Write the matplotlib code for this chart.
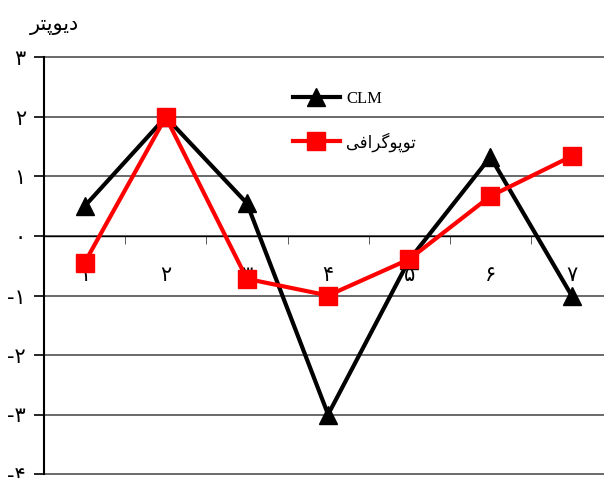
import matplotlib
matplotlib.use("Agg")
import matplotlib.pyplot as plt
from matplotlib.ticker import FixedLocator

plt.rcParams['font.family'] = ['DejaVu Sans']

# data
categories = ['۱', '۲', '۳', '۴', '۵', '۶', '۷']
clm = [0.5, 2.0, 0.55, -3.0, -0.4, 1.33, -1.0]
topo = [-0.45, 2.0, -0.72, -1.0, -0.39, 0.67, 1.34]
y_ticks = [3, 2, 1, 0, -1, -2, -3, -4]
y_labels = ['۳', '۲', '۱', '٠', '-۱', '-۲', '-۳', '-۴']
# Arabic-script labels in visual (presentation-form) order
ylabel_text = '\uFEAE\uFE98\uFB58\uFEEE\uFBFE\uFEA9'          # دیوپتر
topo_label = '\uFBFD\uFED3\uFE8D\uFEAE\uFB94\uFEEE\uFB58\uFEEE\uFE97'  # توپوگرافی
clm_label = 'CLM'

fig = plt.figure(figsize=(6.04, 4.78), dpi=100)
ax = fig.add_axes([44/604, 4/478, 568.2/604, 416.5/478])

x = list(range(1, len(categories) + 1))
ax.plot(x, clm, color='black', lw=3, marker='^', markersize=13, label=clm_label, zorder=3, clip_on=False)
ax.plot(x, topo, color='#ff0000', lw=3, marker='s', markersize=12.5, label=topo_label, zorder=4, clip_on=False)

ax.set_xlim(0.5, 7.5)
ax.set_ylim(-4, 3)
ax.set_yticks(y_ticks)
ax.set_yticklabels(y_labels, fontsize=15)
ax.yaxis.grid(True, color='#505050', lw=1.2)
for gl in ax.yaxis.get_gridlines():
    gl.set_clip_on(False)
ax.set_axisbelow(True)

ax.spines['top'].set_visible(False)
ax.spines['right'].set_visible(False)
ax.spines['left'].set_linewidth(1.5)
ax.spines['bottom'].set_position(('data', 0))
ax.spines['bottom'].set_linewidth(1.0)

ax.set_xticks(x)
ax.set_xticklabels(categories, fontsize=15)
ax.tick_params(axis='x', which='major', length=0, pad=21)
ax.xaxis.set_minor_locator(FixedLocator([i + 0.5 for i in range(1, 7)]))
ax.tick_params(axis='x', which='minor', length=6, direction='out', color='#404040')
ax.tick_params(axis='y', length=7, direction='out', width=1.2, pad=6)

fig.text(54/604, 1 - 25/478, ylabel_text, fontsize=15, ha='center', va='center')

handles, labels = ax.get_legend_handles_labels()
leg = ax.legend(handles, labels, loc='upper left', bbox_to_anchor=(278/604, 1 - 76/478),
                bbox_transform=fig.transFigure, frameon=False, fontsize=12,
                handlelength=2.8, labelspacing=1.5, handletextpad=0.4)
leg.get_texts()[0].set_fontfamily(['Liberation Serif', 'DejaVu Sans'])

fig.savefig('out.png', dpi=100)
